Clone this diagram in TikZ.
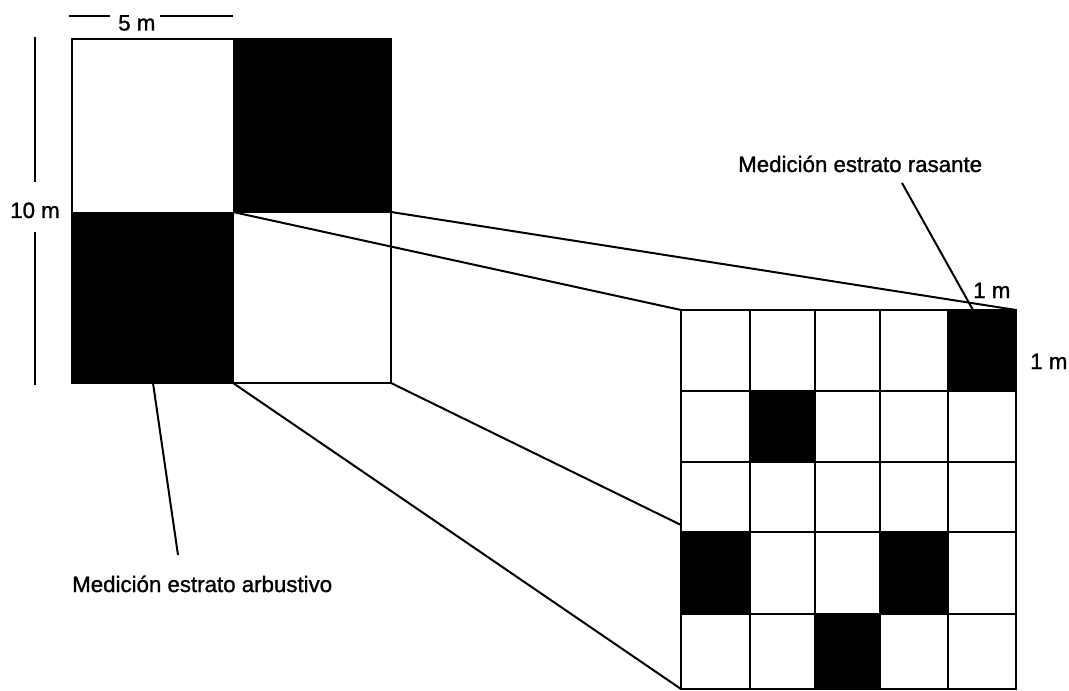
\documentclass[tikz,border=0pt]{standalone}
\usepackage{fontspec}
\setmainfont{Liberation Sans}
\newfontfamily\lblfont{Liberation Sans}[FakeBold=1.2]
\begin{document}
\begin{tikzpicture}[x=0.75pt,y=-0.75pt,
  lbl/.style={font=\lblfont\fontsize{16.7}{18}\selectfont, inner sep=0pt, anchor=base west},
  thinline/.style={line width=1.5pt},
  gridline/.style={line width=2pt, line cap=rect}]
\useasboundingbox (0,0) rectangle (1069,691);

% ---- small plot (10 m x 10 m) ----
\coordinate (p-tl) at (72,39);
\coordinate (p-br) at (391,383);
\coordinate (s-tl) at (233,212);
\coordinate (s-tr) at (391,212);
\coordinate (s-bl) at (233,383);
\coordinate (s-br) at (391,383);
\fill[black] (233,39) rectangle (s-tr);
\fill[black] (72,212) rectangle (s-bl);
\draw[thinline] (p-tl) rectangle (p-br);
\draw[thinline] (s-tl) -- (s-tr) -- (s-br);
\draw[thinline] (s-tl) -- (s-bl);

% ---- dimension labels ----
\node[lbl] (five) at (118,30.5) {5 m};
\coordinate (d5a) at (69,16.5);
\coordinate (d5b) at (110,16.5);
\coordinate (d5c) at (160,16.5);
\coordinate (d5d) at (233,16.5);
\draw[thinline] (d5a) -- (d5b);
\draw[thinline] (d5c) -- (d5d);

\node[lbl] (ten) at (10,218) {10 m};
\coordinate (d10a) at (35,37);
\coordinate (d10b) at (35,182);
\coordinate (d10c) at (35,232);
\coordinate (d10d) at (35,385);
\draw[thinline] (d10a) -- (d10b);
\draw[thinline] (d10c) -- (d10d);

% ---- grid corners ----
\coordinate (g-tl) at (681,310);
\coordinate (g-tr) at (1016,310);
\coordinate (g-bl) at (681,689);
\coordinate (g-br) at (1016,689);

% ---- perspective lines ----
\draw[thinline] (s-tl) -- (g-tl);
\draw[thinline] (s-tr) -- (g-tr);
\draw[thinline] (s-bl) -- (g-bl);
\draw[thinline] (s-br) -- (g-br);

% ---- 5 x 5 grid ----
\fill[white] (g-tl) rectangle (g-br);
\fill[black] (948,310) rectangle (1016,391);
\fill[black] (750,391) rectangle (815,462);
\fill[black] (681,532) rectangle (750,614);
\fill[black] (880,532) rectangle (948,614);
\fill[black] (815,614) rectangle (880,689);
\foreach \x in {681,750,815,880,948,1016}
  \draw[gridline] (\x,310) -- (\x,689);
\foreach \y in {310,391,462,532,614,689}
  \draw[gridline] (681,\y) -- (1016,\y);

% ---- labels and leaders ----
\node[lbl] (arb) at (72,592) {Medición estrato arbustivo};
\coordinate (arb-tip) at (178,555);
\coordinate (arb-end) at (153,383);
\draw[thinline] (arb-tip) -- (arb-end);

\node[lbl] (ras) at (738,172) {Medición estrato rasante};
\coordinate (ras-tip) at (902,183);
\coordinate (ras-end) at (973,310);
\draw[thinline] (ras-tip) -- (ras-end);

\node[lbl] (onetop) at (973,298) {1 m};
\node[lbl] (oneright) at (1030,369) {1 m};
\end{tikzpicture}
\end{document}
